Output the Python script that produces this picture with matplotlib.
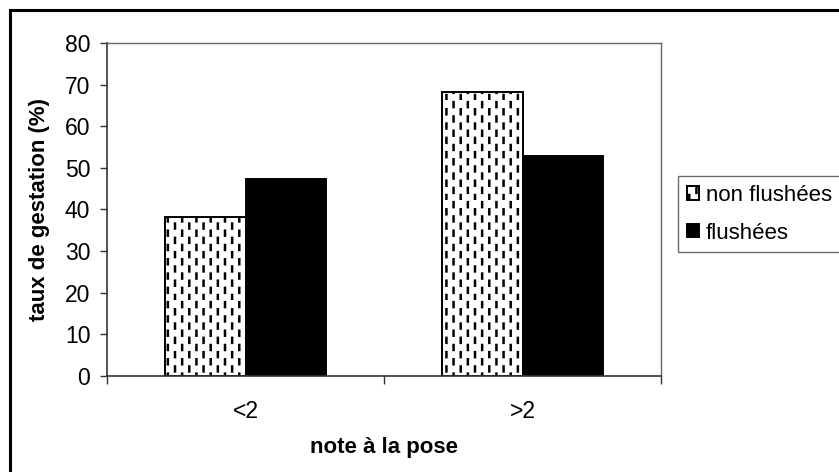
import numpy as np
import matplotlib
matplotlib.use("Agg")
import matplotlib.pyplot as plt
import matplotlib.hatch as mhatch
from matplotlib.path import Path
from matplotlib.patches import Rectangle

# data
categories = ["<2", ">2"]
series_names = ["non flushées", "flushées"]
non_flushees = [38.2, 68.3]
flushees = [47.3, 52.9]
y_ticks = [0, 10, 20, 30, 40, 50, 60, 70, 80]


class DashedVerticalHatch(mhatch.HatchPatternBase):
    """Short vertical dashes in staggered columns, used for the '|' hatch."""

    def __init__(self, hatch, density):
        self.ncol = hatch.count('|') * 7
        self.nrow = 7
        self.dash = 0.05
        self.num_vertices = self.ncol * self.nrow * 2

    def set_vertices_and_codes(self, vertices, codes):
        k = 0
        for c in range(self.ncol):
            x = (c + 0.5) / self.ncol
            shift = 0.5 if c % 2 else 0.0
            for r in range(self.nrow):
                y0 = ((r + shift) / self.nrow) % 1.0
                y0 = min(y0, 1.0 - self.dash)
                vertices[k] = (x, y0)
                vertices[k + 1] = (x, y0 + self.dash)
                codes[k] = Path.MOVETO
                codes[k + 1] = Path.LINETO
                k += 2


mhatch._hatch_types = [DashedVerticalHatch if t is mhatch.VerticalHatch else t
                       for t in mhatch._hatch_types]

plt.rcParams['font.family'] = ['Liberation Sans', 'DejaVu Sans']
plt.rcParams['hatch.linewidth'] = 1.8
plt.rcParams['hatch.color'] = 'black'

W, H = 839, 472
fig = plt.figure(figsize=(W / 100, H / 100), dpi=100)
fig.patch.set_facecolor('white')

# outer frame of the figure
fig.patches.append(Rectangle((10 / W, -0.1), 1.2, 1.1 - 10 / H,
                             transform=fig.transFigure, fill=False,
                             edgecolor='black', linewidth=2.2, zorder=0))

ax = fig.add_axes([107 / W, 1 - 376 / H, (661 - 107) / W, (376 - 43) / H])

x = np.arange(len(categories))
bw = 0.29
b1 = ax.bar(x - bw / 2, non_flushees, bw, facecolor='white', edgecolor='black',
            linewidth=1.4, hatch='||', label=series_names[0])
b2 = ax.bar(x + bw / 2, flushees, bw, facecolor='black', edgecolor='black',
            linewidth=1.4, label=series_names[1])

ax.set_xlim(-0.5, len(categories) - 0.5)
ax.set_ylim(0, 80)
ax.set_yticks(y_ticks)
ax.tick_params(axis='y', direction='out', length=5, width=1, pad=7,
               labelsize=16.5, color='#333333')

# boundaries between groups carry the tick marks, the group centres carry labels
ax.set_xticks(np.arange(len(categories) + 1) - 0.5)
ax.set_xticklabels([])
ax.set_xticks(x, minor=True)
ax.set_xticklabels(categories, minor=True)
ax.tick_params(axis='x', which='major', direction='out', length=6, width=1,
               color='#333333')
ax.tick_params(axis='x', which='minor', length=0, pad=17, labelsize=16.5)

for side in ['left', 'bottom']:
    ax.spines[side].set_color('#333333')
    ax.spines[side].set_linewidth(1.2)
for side in ['top', 'right']:
    ax.spines[side].set_color('#666666')
    ax.spines[side].set_linewidth(1.0)

ax.set_xlabel("note à la pose", fontsize=16, fontweight='bold', labelpad=10)
ax.set_ylabel("taux de gestation (%)", fontsize=16, fontweight='bold',
              labelpad=11)

leg = fig.legend(handles=[b1, b2], loc='upper left',
                 bbox_to_anchor=(678 / W, 1 - 176 / H), fontsize=16,
                 frameon=True, fancybox=False, borderpad=0.4,
                 handlelength=0.55, handleheight=0.55, handletextpad=0.3,
                 labelspacing=0.75, borderaxespad=0)
leg.get_frame().set_edgecolor('#444444')
leg.get_frame().set_linewidth(1.0)

fig.savefig("out.png", dpi=100, facecolor='white')
